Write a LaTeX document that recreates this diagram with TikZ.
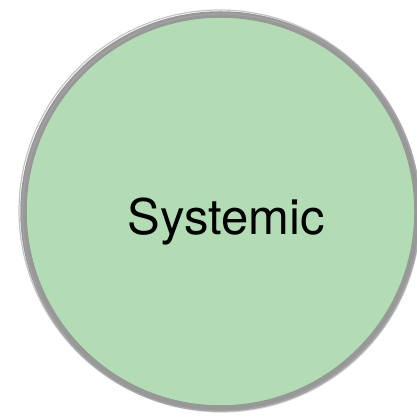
\documentclass[tikz,border=0pt]{standalone}
\usepackage{fontspec}
\setmainfont{TeX Gyre Heros}
\usetikzlibrary{positioning}
\definecolor{sysgreen}{RGB}{178,221,180}
\definecolor{brushgray}{RGB}{152,152,152}

\begin{document}
\begin{tikzpicture}[
  x=1pt, y=1pt,
  bubble/.style={circle, draw=brushgray, line width=6.5pt, fill=sysgreen, minimum size=394pt, inner sep=0pt},
  stroke/.style={circle, draw=brushgray!80, line width=1.2pt, minimum size=#1, inner sep=0pt},
  lbl/.style={font=\fontsize{49}{55}\selectfont, text=black, anchor=base}
]
  \useasboundingbox (0,0) rectangle (416,419);
  \node[bubble] (sys) at (220.5,207.5) {};
  % rough brush edges
  \node[stroke=401pt, draw opacity=0.7] (edgeA) at (219.5,208.5) {};
  \node[stroke=398pt, draw opacity=0.5] (edgeB) at (221.5,206) {};
  \node[lbl] (syslbl) at (226.5,184) {Systemic};
\end{tikzpicture}
\end{document}
